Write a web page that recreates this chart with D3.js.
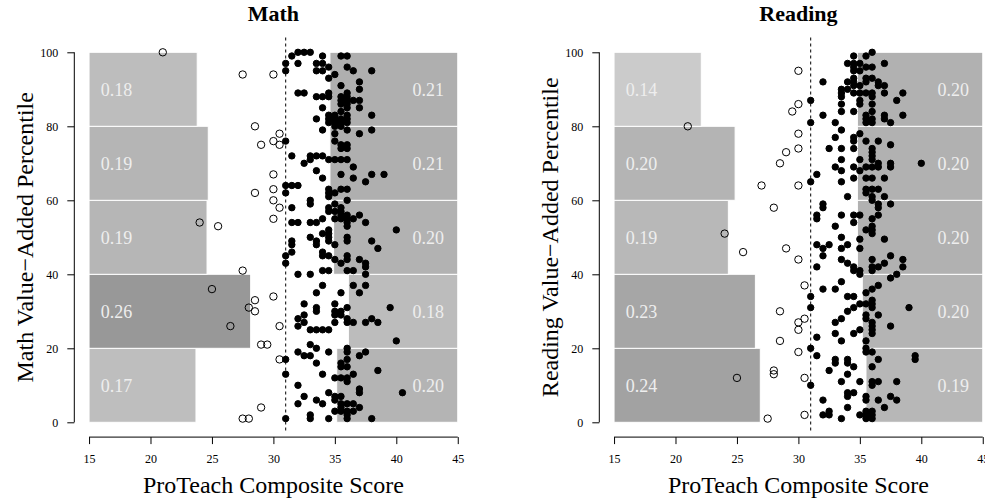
<!DOCTYPE html>
<html>
<head>
<meta charset="utf-8">
<script src="https://cdn.jsdelivr.net/npm/d3@7"></script>
<style>
  body { margin: 0; background: #fff; }
  text { font-family: "Liberation Serif", "Times New Roman", serif; }
</style>
</head>
<body>
<div id="chart"></div>
<script>
// percentile bins and axis ticks
var bins = [0, 20, 40, 60, 80, 100];
var xTicks = [15, 20, 25, 30, 35, 40, 45];
var yTicks = [0, 20, 40, 60, 80, 100];
var cutoff = 31;

// share of teachers per bin (low scorers on the left, high scorers on the right)
var mathLow = [0.174, 0.263, 0.192, 0.194, 0.176];
var mathHigh = [0.197, 0.178, 0.202, 0.208, 0.208];
var readLow = [0.238, 0.230, 0.186, 0.197, 0.142];
var readHigh = [0.190, 0.196, 0.204, 0.204, 0.204];

// [score, percentile]
var mathPts = [
  [21,100],[27.5,94],[30,94],[28.5,80],[30.5,78],[30,76],[29,75],[30.5,75],[30,67],[30,63],[28.5,62],[30,60],
  [30.5,58],[30,55],[24,54],[25.5,53],[27.5,41],[25,36],[30,34],[28.5,33],[28,31],[28.5,30],[26.5,26],[30.5,26],
  [29,21],[29.5,21],[30.5,17],[29,4],[27.5,1],[28,1],
  [32,100],[32.5,100],[33,100],[31.5,99],[34,99],[35.5,99],[36,99],[31,97],[32,97],[33.5,97],[34,97],
  [34.5,96],[36,96],[31,95],[33.5,95],[34,95],[36.5,95],[38,95],[35,94],[34.5,93],[37,92],[35.5,91],[37,90],
  [32,89],[32.5,89],[34.5,89],[36,89],[33.5,88],[34,88],[34.5,88],[35.5,88],[36,88],
  [35.5,87],[36,87],[36.5,87],[37,87],[35.5,86],[36,86],[34,85],[36,85],[37,85],[35.5,84],
  [34.5,83],[35,83],[36,83],[38,83],[33.5,82],[34.5,82],[35,82],[35.5,82],[36,82],
  [34.5,81],[35,81],[35.5,81],[36,81],[35,80],[35.5,80],[34,79],[36,79],[38,79],[35,78],[37,78],
  [31,76],[35,76],[35.5,75],[36,75],[35.5,74],[36,74],[31.5,72],[33,72],[33.5,72],[34,72],
  [33,71],[34.5,71],[35,71],[35.5,71],[36,71],[32.5,70],[36.5,69],[33.5,68],[35.5,67],[38,67],[39,67],
  [34,66],[36.5,66],[37.5,65],[31,64],[31.5,64],[32,64],[34.5,63],[35.5,63],[36,63],
  [31,62],[34.5,62],[35,62],[34.5,61],[33,60],[36,60],[33,59],[35,59],[31.5,58],[34.5,58],[35.5,58],
  [34.5,57],[35,57],[35.5,57],[35.5,56],[36,56],[37,56],[34,55],[35,55],[35.5,55],[36,55],[36.5,55],
  [31.5,54],[32,54],[33,54],[33.5,54],[36,54],[37.5,54],[36,53],[34.5,52],[40,52],[34,51],[34.5,51],
  [33,50],[34.5,50],[36,50],[31.5,49],[33.5,49],[34.5,49],[36,49],[38,49],[31.5,48],[33.5,48],[35,48],
  [38.5,47],[31.5,46],[34,46],[31,45],[34,45],[34.5,45],[36,45],[35,44],[36,44],[37,44],
  [31,43],[35.5,43],[37.5,43],[37.5,42],[34,41],[34.5,41],[36,41],[36.5,41],[32,40],[33,40],[37.5,40],
  [34,37],[36.5,37],[37.5,37],[33.5,35],[35.5,35],[37,35],[32.5,32],[35,32],[33.5,31],[36,31],[39.5,31],
  [33.5,30],[35,30],[35.5,30],[32.5,29],[35,29],[35.5,29],[32,28],[36,28],[38,28],
  [32.5,27],[35,27],[36,27],[36.5,27],[37.5,27],[38.5,27],[32,26],[33,25],[33.5,25],[34,25],[34.5,25],
  [40,22],[33,21],[33.5,20],[36,20],[32,19],[34.5,19],[36,19],[37.5,19],[32.5,18],[33,18],[37,18],
  [31,17],[36,17],[33.5,16],[35.5,16],[35.5,15],[36,15],[38.5,14],[31,13],[34,13],[36.5,13],
  [35,12],[35.5,12],[36,12],[36,11],[32,10],[37,9],[34.5,8],[37,8],[40.5,8],[32.5,7],[35,7],[35.5,7],
  [33.5,6],[35,6],[32,5],[34,5],[35.5,5],[36,5],[36.5,5],[35.5,4],[37,4],[35,3],[35.5,3],[36,3],[36.5,3],
  [33,2],[36,2],[31,1],[33,1],[34.5,1],[36,1],[38,1]
];

var readPts = [
  [21,80],[30,95],[30,86],[29.5,84],[30,78],[30,74],[29,73],[28.5,70],[27,64],[30,64],[28,58],[24,51],
  [25.5,46],[29,47],[30,44],[30.5,37],[28.5,30],[30.5,28],[30,27],[30,25],[28.5,22],[30,19],[28,14],[28,13],
  [25,12],[30.5,12],[27.5,1],[30.5,2],
  [36,100],[34.5,99],[35.5,99],[34,97],[34.5,97],[35,97],[37,97],[34.5,96],[35.5,96],[36,96],[34.5,95],[35,95],
  [34.5,93],[35.5,93],[36,93],[32,92],[34,92],[34.5,92],[35.5,92],[36.5,92],[34.5,91],[35,91],[36.5,91],[37,91],
  [33.5,90],[34,90],[33.5,89],[34.5,89],[35,89],[35.5,89],[36,89],[37,89],[38.5,89],[33.5,88],[36,88],
  [31,87],[35,87],[38,87],[33.5,86],[35,86],[36,86],[33.5,84],[34.5,84],[36,84],
  [32,83],[35.5,83],[37,83],[38.5,83],[35.5,82],[36,82],[37,82],[31,81],[33,81],[35.5,81],[36,81],[37.5,81],
  [33.5,79],[35,78],[33,77],[34.5,77],[34.5,76],[35.5,76],[36.5,76],[37.5,75],
  [32.5,74],[33.5,74],[34.5,74],[36,74],[36,73],[36,72],[33.5,71],[35,71],[36,71],[36.5,70],[37.5,70],[40,70],
  [33,69],[34.5,69],[35.5,69],[36,69],[36.5,69],[37.5,69],[33.5,68],[35,68],[31.5,67],
  [34.5,66],[35.5,66],[36,66],[37,66],[31,65],[33.5,65],[35.5,63],[36,63],[36.5,63],[35.5,62],
  [34,61],[36,61],[37,61],[36,60],[32,59],[36.5,59],[37.5,59],[32,58],[36.5,58],
  [31.5,56],[33.5,56],[34.5,56],[35,56],[36.5,56],[31.5,55],[36,55],[34.5,54],[33,53],[36,53],
  [35.5,52],[36,52],[36,51],[33.5,50],[35,49.5],[37,49.5],[31.5,48],[32.5,48],[34,48],[32,47],[33.5,47],[35,47],
  [32,45],[37.5,45],[33.5,44],[36,44],[38.5,44],[34,43],[37,43],[31.5,42],[34.5,42],[36,42],[36.5,42],[38.5,42],
  [34.5,41],[35,41],[36,41],[35,40],[38,40],[37.5,39],[33.5,38],[36.5,37],[32,36],[33,36],[36,36],[35.5,35],
  [31,34],[34,34],[34.5,34],[36,33],[35,32],[35.5,32],[36,32],[31,31],[34.5,31],[36,31],[39,31],[34,30],
  [35.5,29],[36.5,29],[33.5,28],[35.5,28],[33,27],[36,27],[36,26],[37.5,26],[35,25],[36,25],
  [33,24],[34.5,24],[36,24],[31.5,23],[33.5,22],[35.5,22],[31,20],[35.5,20],[35.5,19],[36,19],
  [31.5,18],[39.5,18],[33,17],[34,17],[36.5,17],[39.5,17],[33,16],[34,16],[34.5,15],[36,15],[32.5,14],[34,13],
  [33.5,11],[35,11],[36,11],[36.5,11],[38,11],[31,10],[36,10],[34,8],[34.5,8],[34,7],[35.5,7],[37.5,7],
  [32,6],[35.5,6],[36.5,6],[38,6],[34,4],[37,4],[32.5,3],[35.5,3],[36,3],[32,2],[32.5,2],[35,2],[35.5,2],[36,2],
  [33.5,1],[35.5,1],[36,1]
];

var svgWidth = 985;
var svgHeight = 503;
var barScale = 50; // share -> score units

var svg = d3.select("#chart").append("svg")
  .attr("width", svgWidth)
  .attr("height", svgHeight);

var panels = [
  { title: "Math", ylab: "Math Value\u2212Added Percentile", low: mathLow, high: mathHigh, pts: mathPts, left: 74.3 },
  { title: "Reading", ylab: "Reading Value\u2212Added Percentile", low: readLow, high: readHigh, pts: readPts, left: 599.3 }
];

var shade = d3.scaleLinear().domain([0.14, 0.26]).range(["#cccccc", "#999999"]);

panels.forEach(function(p) {
  var x = d3.scaleLinear().domain([13.8, 46.2]).range([p.left, p.left + 398.2]);
  var y = d3.scaleLinear().domain([-4, 104]).range([437.1, 37.5]);
  var g = svg.append("g");

  var rows = d3.range(bins.length - 1).map(function(i) {
    return { lo: bins[i], hi: bins[i + 1], low: p.low[i], high: p.high[i] };
  });

  // bars
  g.selectAll("rect.low").data(rows).enter().append("rect")
    .attr("x", x(15))
    .attr("y", d => y(d.hi))
    .attr("width", d => x(15 + d.low * barScale) - x(15))
    .attr("height", d => y(d.lo) - y(d.hi))
    .attr("fill", d => shade(d.low))
    .attr("stroke", "#fff");

  g.selectAll("rect.high").data(rows).enter().append("rect")
    .attr("x", d => x(45 - d.high * barScale))
    .attr("y", d => y(d.hi))
    .attr("width", d => x(45) - x(45 - d.high * barScale))
    .attr("height", d => y(d.lo) - y(d.hi))
    .attr("fill", d => shade(d.high))
    .attr("stroke", "#fff");

  // bar labels
  g.selectAll("text.low").data(rows).enter().append("text")
    .attr("x", x(15) + 11.7)
    .attr("y", d => y((d.lo + d.hi) / 2))
    .attr("dy", "0.35em")
    .attr("font-size", "18px")
    .attr("fill", "#eeeeee")
    .text(d => d.low.toFixed(2));

  g.selectAll("text.high").data(rows).enter().append("text")
    .attr("x", x(45) - 13.7)
    .attr("y", d => y((d.lo + d.hi) / 2))
    .attr("dy", "0.35em")
    .attr("text-anchor", "end")
    .attr("font-size", "18px")
    .attr("fill", "#eeeeee")
    .text(d => d.high.toFixed(2));

  // cutoff line
  g.append("line")
    .attr("x1", x(cutoff)).attr("x2", x(cutoff))
    .attr("y1", y(104)).attr("y2", y(-2.5))
    .attr("stroke", "#000")
    .attr("stroke-dasharray", "3,3");

  // points: open below the cutoff, filled from it on
  g.selectAll("circle").data(p.pts).enter().append("circle")
    .attr("cx", d => x(d[0]))
    .attr("cy", d => y(d[1]))
    .attr("r", d => d[0] < cutoff ? 3.7 : 3.2)
    .attr("fill", d => d[0] < cutoff ? "none" : "#000")
    .attr("stroke", "#000")
    .attr("stroke-width", 1);

  // axes
  var xAxis = g.append("g")
    .attr("transform", `translate(0, ${y(-4)})`)
    .call(d3.axisBottom(x).tickValues(xTicks).tickSize(7).tickPadding(10.5).tickSizeOuter(0));
  xAxis.select(".domain").remove();
  xAxis.append("line").attr("x1", x(15)).attr("x2", x(45)).attr("stroke", "#000");

  var yAxis = g.append("g")
    .attr("transform", `translate(${x(13.8)}, 0)`)
    .call(d3.axisLeft(y).tickValues(yTicks).tickSize(7).tickPadding(9).tickSizeOuter(0));
  yAxis.select(".domain").remove();
  yAxis.append("line").attr("y1", y(0)).attr("y2", y(100)).attr("stroke", "#000");

  g.selectAll(".tick text")
    .attr("font-family", "'Liberation Serif', 'Times New Roman', serif")
    .attr("font-size", "12px")
    .attr("fill", "#000");

  // titles
  g.append("text")
    .attr("x", x(30)).attr("y", 21)
    .attr("text-anchor", "middle")
    .attr("font-size", "22px")
    .attr("font-weight", "bold")
    .text(p.title);

  g.append("text")
    .attr("x", x(30)).attr("y", 493)
    .attr("text-anchor", "middle")
    .attr("font-size", "24px")
    .text("ProTeach Composite Score");

  g.append("text")
    .attr("transform", `translate(${p.left - 41}, ${y(50)}) rotate(-90)`)
    .attr("text-anchor", "middle")
    .attr("font-size", "24px")
    .text(p.ylab);
});
</script>
</body>
</html>
